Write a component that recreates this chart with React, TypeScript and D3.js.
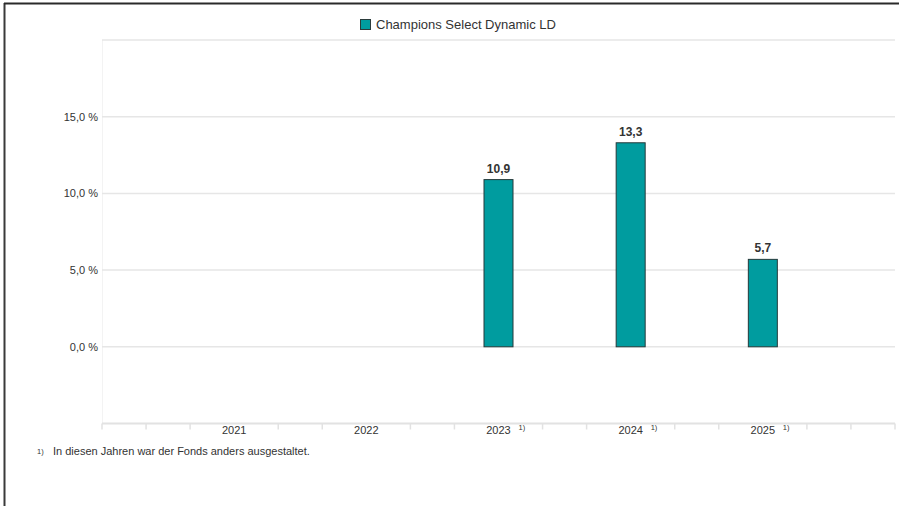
import React from "react";
import * as d3 from "d3";

const years = [2021, 2022, 2023, 2024, 2025];
const yearLabels = ["2021", "2022", "2023", "2024", "2025"];
const footnoteYears = [false, false, true, true, true];
const values: (number | null)[] = [null, null, 10.9, 13.3, 5.7];
const valueLabels = ["", "", "10,9", "13,3", "5,7"];
const yTicks = [0, 5, 10, 15];
const yTickLabels = ["0,0 %", "5,0 %", "10,0 %", "15,0 %"];
const gridValues = [-5, 0, 5, 10, 15, 20];
const seriesName = "Champions Select Dynamic LD";
const footnoteText = "In diesen Jahren war der Fonds anders ausgestaltet.";

const W = 899;
const H = 506;
const FONT = "'Liberation Sans', Arial, sans-serif";
const TEAL = "#009c9f";

export default function App() {
  const x = d3.scaleLinear().domain([2020, 2026]).range([102, 895]);
  const y = d3.scaleLinear().domain([-5, 20]).range([423.5, 40]);
  const minorTicks = d3.range(0, 19).map((i) => 2020 + i / 3).filter((t) => Math.abs(t - Math.round(t)) > 0.01 || t === 2020 || t === 2026);
  const barW = 29;

  return (
    <svg
      width={W}
      height={H}
      style={{ position: "absolute", left: 0, top: 0, fontFamily: FONT }}
    >
      <rect x={0} y={0} width={W} height={H} fill="#fff" />
      {/* frame */}
      <line x1={4.5} x2={4.5} y1={3} y2={H} stroke="#3a3a3a" strokeWidth={2} />
      <line x1={4} x2={W} y1={3.5} y2={3.5} stroke="#2a2a2a" strokeWidth={2} />

      {/* legend */}
      <rect x={360.5} y={19.5} width={10} height={10} fill={TEAL} stroke="#2b3b3b" strokeWidth={1} />
      <text x={376} y={28.5} fontSize={13} fill="#333">{seriesName}</text>

      {/* faint left plot edge */}
      <line x1={102.5} x2={102.5} y1={40} y2={423} stroke="#f3f3f3" strokeWidth={1} />

      {/* gridlines */}
      {gridValues.slice(1).map((v) => (
        <line key={v} x1={102} x2={895} y1={y(v)} y2={y(v)} stroke="#e6e6e6" strokeWidth={1.5} />
      ))}
      {/* y tick labels */}
      {yTicks.map((v, i) => (
        <text key={v} x={98} y={y(v) + 4} fontSize={11} fill="#333" textAnchor="end">
          {yTickLabels[i]}
        </text>
      ))}

      {/* bottom axis */}
      <line x1={102} x2={895} y1={y(-5)} y2={y(-5)} stroke="#e2e2e2" strokeWidth={2} />
      {minorTicks.map((t, i) => (
        <line key={i} x1={x(t)} x2={x(t)} y1={y(-5)} y2={y(-5) + 6} stroke="#e2e2e2" strokeWidth={1.5} />
      ))}
      {years.map((yr, i) => (
        <g key={yr}>
          <text x={x(yr)} y={434} fontSize={11} fill="#333" textAnchor="middle">
            {yearLabels[i]}
          </text>
          {footnoteYears[i] && (
            <text x={x(yr) + 20} y={430} fontSize={7.5} fill="#333">
              1)
            </text>
          )}
        </g>
      ))}

      {/* bars */}
      {years.map((yr, i) => {
        const v = values[i];
        if (v == null) return null;
        const top = y(v);
        const base = y(0);
        return (
          <g key={yr}>
            <rect
              x={x(yr) - barW / 2}
              y={top}
              width={barW}
              height={base - top}
              fill={TEAL}
              stroke="#25393a"
              strokeWidth={1}
            />
            <text x={x(yr)} y={top - 7} fontSize={12} fontWeight="bold" fill="#333" textAnchor="middle">
              {valueLabels[i]}
            </text>
          </g>
        );
      })}

      {/* footnote */}
      <text x={37} y={454} fontSize={7.5} fill="#333">1)</text>
      <text x={53} y={455} fontSize={11} fill="#333">{footnoteText}</text>
    </svg>
  );
}
